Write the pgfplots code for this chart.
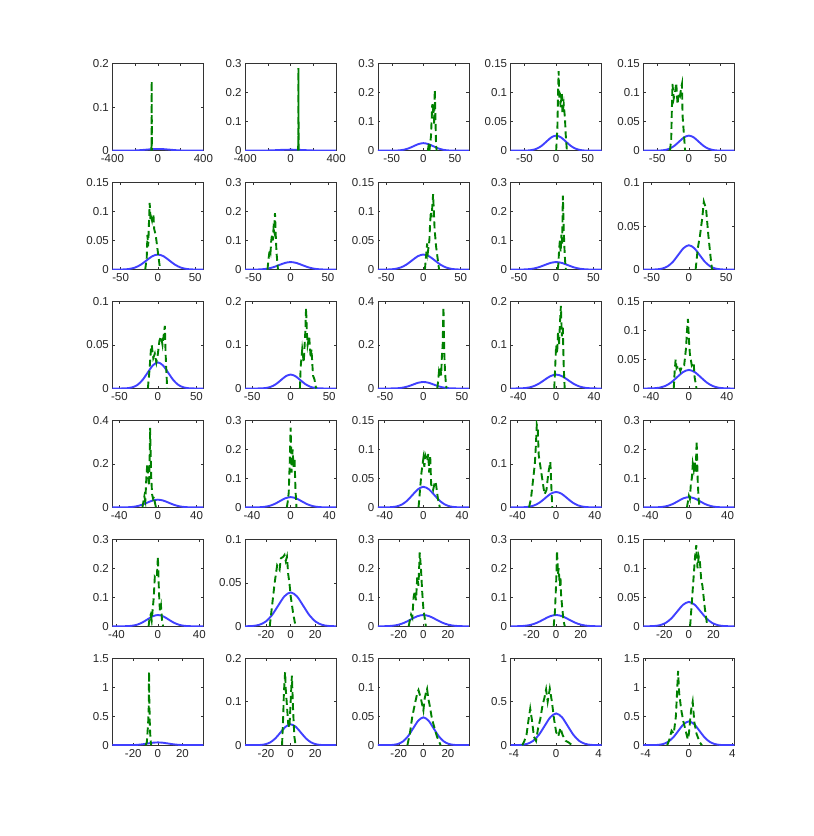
\documentclass[border=0pt]{standalone}
\usepackage{fontspec}
\setmainfont{Liberation Sans}
\usepackage{pgfplots}
\usepackage{pgfplotstable}
\pgfplotsset{compat=1.18}
\definecolor{mblue}{RGB}{64,64,255}
\definecolor{mgreen}{RGB}{0,128,0}
\pgfplotstableread{
x y
-450 0
-400 0.0000013
-350 0.0000088
-300 0.0000444
-250 0.000176
-200 0.000541
-150 0.0013
-100 0.00243
-50 0.00353
0 0.004
50 0.00353
100 0.00243
150 0.0013
200 0.000541
250 0.000176
300 0.0000444
350 0.0000088
400 0.0000013
450 0
}\gA
\pgfplotstableread{
x y
-450 0
-400 0.0000077
-342 0.0000389
-285 0.000154
-228 0.000474
-171 0.00114
-114 0.00212
-57 0.00309
0 0.0035
57 0.00309
114 0.00212
171 0.00114
228 0.000474
285 0.000154
342 0.0000389
400 0.0000077
450 0
}\gB
\pgfplotstableread{
x y
-80 0
-61.2 0.0000087
-53.55 0.0000569
-45.9 0.000289
-38.25 0.001142
-30.6 0.003519
-22.95 0.008441
-15.3 0.01577
-7.65 0.022945
0 0.026
7.65 0.022945
15.3 0.01577
22.95 0.008441
30.6 0.003519
38.25 0.001142
45.9 0.000289
53.55 0.0000569
61.2 0.0000087
80 0
}\gC
\pgfplotstableread{
x y
-70 0
-56.8 0.0000094
-49.7 0.0000613
-42.6 0.000311
-35.5 0.00123
-28.4 0.00379
-21.3 0.00909
-14.2 0.016983
-7.1 0.02471
0 0.028
7.1 0.02471
14.2 0.016983
21.3 0.00909
28.4 0.00379
35.5 0.00123
42.6 0.000311
49.7 0.0000613
56.8 0.0000094
70 0
}\gD
\pgfplotstableread{
x y
-70 0
-53.2 0.00001
-46.55 0.0000657
-39.9 0.000333
-33.25 0.001318
-26.6 0.00406
-19.95 0.00974
-13.3 0.018196
-6.65 0.026475
0 0.03
6.65 0.026475
13.3 0.018196
19.95 0.00974
26.6 0.00406
33.25 0.001318
39.9 0.000333
46.55 0.0000657
53.2 0.00001
70 0
}\gE
\pgfplotstableread{
x y
-70 0
-50 0.0000107
-43.75 0.0000701
-37.5 0.000356
-31.25 0.001406
-25 0.004331
-18.75 0.010389
-12.5 0.019409
-6.25 0.02824
0 0.032
6.25 0.02824
12.5 0.019409
18.75 0.010389
25 0.004331
31.25 0.001406
37.5 0.000356
43.75 0.0000701
50 0.0000107
70 0
}\gF
\pgfplotstableread{
x y
-60 0
-44.8 0.0000119
-39.2 0.0000777
-33.6 0.000394
-28 0.00156
-22.4 0.004805
-16.8 0.011525
-11.2 0.021532
-5.6 0.031329
0 0.0355
5.6 0.031329
11.2 0.021532
16.8 0.011525
22.4 0.004805
28 0.00156
33.6 0.000394
39.2 0.0000777
44.8 0.0000119
60 0
}\gG
\pgfplotstableread{
x y
-55 0
-40.8 0.0000131
-35.7 0.0000854
-30.6 0.000433
-25.5 0.001714
-20.4 0.005278
-15.3 0.012661
-10.2 0.023655
-5.1 0.034418
0 0.039
5.1 0.034418
10.2 0.023655
15.3 0.012661
20.4 0.005278
25.5 0.001714
30.6 0.000433
35.7 0.0000854
40.8 0.0000131
55 0
}\gH
\pgfplotstableread{
x y
-50 0
-38 0.0000141
-33.25 0.000092
-28.5 0.000467
-23.75 0.001845
-19 0.005684
-14.25 0.013635
-9.5 0.025474
-4.75 0.037065
0 0.042
4.75 0.037065
9.5 0.025474
14.25 0.013635
19 0.005684
23.75 0.001845
28.5 0.000467
33.25 0.000092
38 0.0000141
50 0
}\gI
\pgfplotstableread{
x y
-50 0
-33.2 0.0000161
-29.05 0.000105
-24.9 0.000533
-20.75 0.002109
-16.6 0.006496
-12.45 0.015583
-8.3 0.029113
-4.15 0.04236
0 0.048
4.15 0.04236
8.3 0.029113
12.45 0.015583
16.6 0.006496
20.75 0.002109
24.9 0.000533
29.05 0.000105
33.2 0.0000161
50 0
}\gJ
\pgfplotstableread{
x y
-5.5 0
-4.36 0.000122
-3.815 0.0008
-3.27 0.004055
-2.725 0.01604
-2.18 0.0494
-1.635 0.1185
-1.09 0.22138
-0.545 0.32211
0 0.365
0.545 0.32211
1.09 0.22138
1.635 0.1185
2.18 0.0494
2.725 0.01604
3.27 0.004055
3.815 0.0008
4.36 0.000122
5.5 0
}\gK
\pgfplotstableread{
x y
-5.5 0
-3.88 0.000137
-3.395 0.000898
-2.91 0.004555
-2.425 0.01802
-1.94 0.05549
-1.455 0.13311
-0.97 0.24868
-0.485 0.36183
0 0.41
0.485 0.36183
0.97 0.24868
1.455 0.13311
1.94 0.05549
2.425 0.01802
2.91 0.004555
3.395 0.000898
3.88 0.000137
5.5 0
}\gL
\pgfplotsset{
  pan/.style={width=91pt,height=87pt,scale only axis,anchor=south west,
    ymin=0,axis line style={draw=black!80,line width=0.7pt},
    tick align=inside,major tick length=2.5pt,
    tick style={draw=black!80,line width=0.5pt},
    tick label style={font=\fontsize{11.5}{13}\selectfont,text=black!85},
    xticklabel style={yshift=-0.5pt},
    clip=true},
  bl/.style={mblue,line width=1.9pt,smooth},
  gr/.style={mgreen,line width=1.9pt,dash pattern=on 7pt off 4pt},
  y15/.style={ymax=0.15,ytick={0,0.05,0.1,0.15},yticklabels={0,0.05,0.1,0.15}},
  y10/.style={ymax=0.1,ytick={0,0.05,0.1},yticklabels={0,0.05,0.1}},
  y20/.style={ymax=0.2,ytick={0,0.1,0.2},yticklabels={0,0.1,0.2}},
  y30/.style={ymax=0.3,ytick={0,0.1,0.2,0.3},yticklabels={0,0.1,0.2,0.3}},
  y40/.style={ymax=0.4,ytick={0,0.2,0.4},yticklabels={0,0.2,0.4}},
  y100/.style={ymax=1,ytick={0,0.5,1},yticklabels={0,0.5,1}},
  y150/.style={ymax=1.5,ytick={0,0.5,1,1.5},yticklabels={0,0.5,1,1.5}},
  x400/.style={xmin=-400,xmax=400,xtick={-400,-200,0,200,400},xticklabels={-400,,0,,400}},
  x50/.style={xmin=-#1,xmax=#1,xtick={-50,0,50},xticklabels={-50,0,50}},
  x40/.style={xmin=-#1,xmax=#1,xtick={-40,0,40},xticklabels={-40,0,40}},
  x20/.style={xmin=-#1,xmax=#1,xtick={-20,0,20},xticklabels={-20,0,20}},
  x4/.style={xmin=-#1,xmax=#1,xtick={-4,0,4},xticklabels={-4,0,4}},
}
\begin{document}
\begin{tikzpicture}
\path[use as bounding box] (0,0) rectangle (814pt,836pt);
% ---------- row 1
\begin{axis}[pan,at={(112.4pt,685.3pt)},x400,y20]
\addplot[bl] table {\gA};
\addplot[gr] coordinates {(-57,0)(-56,0.03)(-55.5,0.01)(-55,0.09)(-54.5,0.16)(-54,0.12)(-53.5,0.05)(-53,0)};
\end{axis}
\begin{axis}[pan,at={(245.15pt,685.3pt)},x400,y30]
\addplot[bl] table {\gB};
\addplot[gr] coordinates {(66,0)(67,0.05)(67.5,0.02)(68,0.12)(68.5,0.285)(69,0.2)(69.5,0.08)(70,0)};
\end{axis}
\begin{axis}[pan,at={(377.9pt,685.3pt)},x50=72,y30]
\addplot[bl] table {\gC};
\addplot[gr] coordinates {(7,0)(9,0.03)(10,0.01)(12,0.05)(14,0.16)(15,0.13)(16,0.16)(17,0.09)(18,0.21)(19,0.12)(20,0.02)(21,0)};
\end{axis}
\begin{axis}[pan,at={(510.65pt,685.3pt)},x50=72,y15]
\addplot[bl] table {\gC};
\addplot[gr] coordinates {(0,0)(2,0.04)(3,0.1)(4,0.137)(5,0.09)(6,0.1)(7,0.075)(9,0.1)(10,0.065)(12,0.08)(14,0.055)(15,0.03)(17,0)};
\end{axis}
\begin{axis}[pan,at={(643.4pt,685.3pt)},x50=72,y15]
\addplot[bl] table {\gC};
\addplot[gr] coordinates {(-30,0)(-28,0.02)(-27,0.07)(-26,0.115)(-24,0.09)(-22,0.1)(-20,0.117)(-18,0.08)(-16,0.1)(-14,0.095)(-12,0.11)(-11,0.115)(-10,0.06)(-8,0.03)(-6,0)};
\end{axis}
% ---------- row 2
\begin{axis}[pan,at={(112.4pt,566.4pt)},x50=61,y15]
\addplot[bl] table {\gC};
\addplot[gr] coordinates {(-17,0)(-15,0.02)(-14,0.06)(-13,0.04)(-12,0.08)(-11,0.115)(-10,0.085)(-9,0.09)(-8,0.085)(-7,0.095)(-6,0.095)(-5,0.07)(-3,0.06)(-1,0.04)(1,0.02)(3,0)};
\end{axis}
\begin{axis}[pan,at={(245.15pt,566.4pt)},x50=61,y30]
\addplot[bl] table {\gC};
\addplot[gr] coordinates {(-31,0)(-30,0.03)(-29,0.05)(-28,0.07)(-27,0.06)(-26,0.1)(-25,0.12)(-24,0.1)(-23,0.14)(-22,0.13)(-21,0.195)(-20,0.12)(-19,0.06)(-18,0.03)(-17,0)};
\end{axis}
\begin{axis}[pan,at={(377.9pt,566.4pt)},x50=61,y15]
\addplot[bl] table {\gC};
\addplot[gr] coordinates {(2,0)(4,0.03)(5,0.045)(6,0.03)(8,0.05)(9,0.08)(10,0.1)(11,0.09)(12,0.11)(13,0.13)(14,0.1)(15,0.07)(17,0.04)(19,0.02)(21,0)};
\end{axis}
\begin{axis}[pan,at={(510.65pt,566.4pt)},x50=61,y30]
\addplot[bl] table {\gC};
\addplot[gr] coordinates {(2,0)(3,0.02)(4,0.07)(5,0.1)(6,0.06)(7,0.12)(8,0.09)(9,0.255)(10,0.15)(11,0.08)(12,0.03)(13,0)};
\end{axis}
\begin{axis}[pan,at={(643.4pt,566.4pt)},x50=61,y10]
\addplot[bl] table {\gD};
\addplot[gr] coordinates {(9,0)(12,0.025)(15,0.04)(18,0.06)(20,0.078)(23,0.07)(26,0.04)(29,0.015)(31,0)};
\end{axis}
% ---------- row 3
\begin{axis}[pan,at={(112.4pt,447.5pt)},x50=59,y10]
\addplot[bl] table {\gE};
\addplot[gr] coordinates {(-13,0)(-11,0.02)(-9,0.045)(-8,0.05)(-6,0.035)(-4,0.04)(-2,0.03)(0,0.04)(2,0.055)(4,0.06)(6,0.05)(8,0.065)(9,0.072)(10,0.04)(11,0.02)(12,0)};
\end{axis}
\begin{axis}[pan,at={(245.15pt,447.5pt)},x50=59,y20]
\addplot[bl] table {\gF};
\addplot[gr] coordinates {(12,0)(13,0.05)(15,0.09)(17,0.06)(19,0.13)(20,0.185)(21,0.13)(22,0.1)(24,0.12)(26,0.07)(27,0.09)(29,0.03)(31,0.02)(33,0)};
\end{axis}
\begin{axis}[pan,at={(377.9pt,447.5pt)},x50=59,y40]
\addplot[bl] table {\gE};
\addplot[gr] coordinates {(18,0)(19,0.03)(20,0.07)(21,0.05)(22,0.1)(23,0.06)(24,0.15)(25,0.2)(26,0.375)(27,0.17)(28,0.08)(29,0.03)(30,0)};
\end{axis}
\begin{axis}[pan,at={(510.65pt,447.5pt)},x40=48,y20]
\addplot[bl] table {\gF};
\addplot[gr] coordinates {(-2,0)(-1,0.05)(0,0.1)(1,0.08)(2,0.13)(3,0.1)(4,0.15)(5,0.19)(6,0.12)(7,0.14)(8,0.05)(9,0)};
\end{axis}
\begin{axis}[pan,at={(643.4pt,447.5pt)},x40=48,y15]
\addplot[bl] table {\gF};
\addplot[gr] coordinates {(-16,0)(-15,0.03)(-14,0.05)(-13,0.035)(-11,0.04)(-9,0.03)(-7,0.04)(-5,0.04)(-3,0.07)(-2,0.1)(-1,0.12)(0,0.085)(1,0.06)(3,0.04)(5,0.045)(6,0.02)(8,0)};
\end{axis}
% ---------- row 4
\begin{axis}[pan,at={(112.4pt,328.6pt)},x40=47,y40]
\addplot[bl] table {\gG};
\addplot[gr] coordinates {(-16,0)(-14,0.05)(-13,0.03)(-12,0.13)(-11,0.2)(-10,0.14)(-9,0.1)(-8,0.365)(-7,0.15)(-6,0.06)(-5,0.04)(-4,0.05)(-3,0.02)(-2,0)};
\end{axis}
\begin{axis}[pan,at={(245.15pt,328.6pt)},x40=47,y30]
\addplot[bl] table {\gG};
\addplot[gr] coordinates {(-4,0)(-3,0.02)(-2,0.05)(-1,0.15)(0,0.275)(1,0.12)(2,0.2)(3,0.14)(4,0.17)(5,0.06)(6,0)};
\end{axis}
\begin{axis}[pan,at={(377.9pt,328.6pt)},x40=47,y15]
\addplot[bl] table {\gG};
\addplot[gr] coordinates {(-5,0)(-3,0.04)(-2,0.06)(0,0.085)(1,0.07)(2,0.09)(4,0.08)(5,0.092)(6,0.06)(7,0.09)(8,0.04)(10,0.03)(12,0.045)(13,0.04)(15,0.015)(17,0)};
\end{axis}
\begin{axis}[pan,at={(510.65pt,328.6pt)},x40=47,y20]
\addplot[bl] table {\gG};
\addplot[gr] coordinates {(-28,0)(-26,0.02)(-24,0.06)(-22,0.1)(-21,0.14)(-20,0.19)(-19,0.18)(-18,0.12)(-16,0.09)(-14,0.06)(-12,0.03)(-10,0.04)(-8,0.08)(-6,0.105)(-5,0.05)(-4,0)};
\end{axis}
\begin{axis}[pan,at={(643.4pt,328.6pt)},x40=47,y30]
\addplot[bl] table {\gG};
\addplot[gr] coordinates {(-2,0)(-1,0.02)(0,0.04)(1,0.03)(2,0.08)(3,0.1)(4,0.15)(5,0.13)(6,0.16)(7,0.12)(8,0.23)(9,0.1)(10,0.03)(11,0)};
\end{axis}
% ---------- row 5
\begin{axis}[pan,at={(112.4pt,209.7pt)},x40=44,y30]
\addplot[bl] table {\gH};
\addplot[gr] coordinates {(-9,0)(-8,0.03)(-7,0.04)(-6,0.02)(-5,0.06)(-4,0.1)(-3,0.17)(-2,0.165)(-1,0.17)(0,0.24)(1,0.12)(2,0.05)(3,0.07)(4,0.02)(5,0)};
\end{axis}
\begin{axis}[pan,at={(245.15pt,209.7pt)},x20=37,y10]
\addplot[bl] table {\gH};
\addplot[gr] coordinates {(-17,0)(-15,0.025)(-13,0.05)(-11,0.07)(-9,0.065)(-8,0.078)(-6,0.08)(-5,0.082)(-4,0.075)(-3,0.08)(-2,0.06)(-1,0.05)(0,0.035)(2,0.015)(4,0)};
\end{axis}
\begin{axis}[pan,at={(377.9pt,209.7pt)},x20=37,y30]
\addplot[bl] table {\gH};
\addplot[gr] coordinates {(-12,0)(-11,0.02)(-10,0.04)(-9,0.03)(-8,0.1)(-7,0.12)(-6,0.09)(-5,0.17)(-4,0.14)(-3,0.255)(-2,0.2)(-1,0.12)(0,0.06)(1,0.03)(2,0)};
\end{axis}
\begin{axis}[pan,at={(510.65pt,209.7pt)},x20=37,y30]
\addplot[bl] table {\gH};
\addplot[gr] coordinates {(-2,0)(-1,0.05)(0,0.15)(0.7,0.26)(1.5,0.18)(2,0.2)(3,0.14)(3.5,0.17)(4,0.11)(5,0.06)(6,0.02)(7,0)};
\end{axis}
\begin{axis}[pan,at={(643.4pt,209.7pt)},x20=37,y15]
\addplot[bl] table {\gI};
\addplot[gr] coordinates {(1,0)(2,0.03)(3,0.06)(4,0.09)(5,0.12)(6,0.14)(7,0.1)(8,0.12)(9,0.11)(10,0.08)(11,0.07)(12,0.05)(13,0.03)(15,0)};
\end{axis}
% ---------- row 6
\begin{axis}[pan,at={(112.4pt,90.8pt)},x20=37,y150]
\addplot[bl] table {\gJ};
\addplot[gr] coordinates {(-10,0)(-9,0.05)(-8.5,0.2)(-8,0.35)(-7.5,0.6)(-7.2,1.27)(-7,0.8)(-6.5,0.3)(-6,0.1)(-5.5,0)};
\end{axis}
\begin{axis}[pan,at={(245.15pt,90.8pt)},x20=37,y20]
\addplot[bl] table {\gJ};
\addplot[gr] coordinates {(-7,0)(-6,0.07)(-5.5,0.12)(-4.5,0.168)(-4,0.13)(-3,0.09)(-2,0.05)(-1,0.04)(0,0.1)(1,0.16)(2,0.08)(3,0.02)(4,0)};
\end{axis}
\begin{axis}[pan,at={(377.9pt,90.8pt)},x20=37,y15]
\addplot[bl] table {\gJ};
\addplot[gr] coordinates {(-13,0)(-11,0.02)(-9,0.05)(-7,0.07)(-5,0.09)(-4,0.095)(-2,0.08)(0,0.06)(1,0.08)(2,0.09)(3,0.097)(4,0.08)(5,0.07)(7,0.045)(9,0.03)(11,0.015)(14,0)};
\end{axis}
\begin{axis}[pan,at={(510.65pt,90.8pt)},x4=4.3,y100]
\addplot[bl] table {\gK};
\addplot[gr] coordinates {(-3.2,0)(-3,0.05)(-2.8,0.12)(-2.6,0.3)(-2.45,0.42)(-2.3,0.3)(-2.1,0.1)(-1.9,0.05)(-1.7,0.2)(-1.5,0.3)(-1.3,0.45)(-1.1,0.55)(-0.95,0.64)(-0.8,0.5)(-0.6,0.65)(-0.4,0.5)(-0.2,0.3)(0,0.15)(0.2,0.1)(0.4,0.2)(0.6,0.12)(0.9,0.05)(1.2,0.03)(1.5,0)};
\end{axis}
\begin{axis}[pan,at={(643.4pt,90.8pt)},x4=4.2,y150]
\addplot[bl] table {\gL};
\addplot[gr] coordinates {(-2,0)(-1.8,0.1)(-1.6,0.25)(-1.4,0.2)(-1.2,0.5)(-1.0,1.28)(-0.9,0.9)(-0.7,0.6)(-0.5,0.4)(-0.3,0.25)(-0.1,0.1)(0,0.2)(0.2,0.6)(0.35,0.75)(0.5,0.4)(0.7,0.2)(1.0,0.05)(1.2,0)};
\end{axis}
\end{tikzpicture}
\end{document}
